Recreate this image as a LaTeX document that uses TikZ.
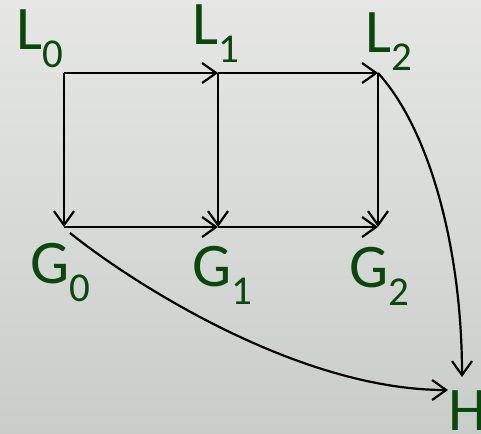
\documentclass[tikz,border=0pt]{standalone}
\usepackage{fontspec}
\setmainfont{Carlito}
\usetikzlibrary{arrows.meta}
\definecolor{txt}{RGB}{8,72,10}
\definecolor{bgtop}{RGB}{230,231,229}
\definecolor{bgbot}{RGB}{201,205,201}
\newcommand{\sbs}[1]{\raisebox{-18pt}{\fontsize{41}{41}\selectfont #1}}
\tikzset{
  lbl/.style={anchor=base west, inner sep=0pt, text=txt, font=\fontsize{62}{62}\selectfont},
  conn/.style={line width=2.2pt, draw=black, -{Straight Barb[length=14pt,width=20pt,line width=2.2pt]}},
}
\begin{document}
\begin{tikzpicture}[x=1pt,y=-1pt]
\shade[top color=bgtop, bottom color=bgbot] (0,0) rectangle (481,433);
\useasboundingbox (0,0) rectangle (481,433);
% points
\coordinate (L0) at (64,73);
\coordinate (L1) at (218,73);
\coordinate (L2) at (378,73);
\coordinate (G0) at (64,227);
\coordinate (G1) at (218,227);
\coordinate (G2) at (378,227);
\coordinate (G0s) at (70,233);
\coordinate (HT) at (462,377);
\coordinate (HL) at (448,390);
% labels
\node[lbl] (tL0) at (16,50) {L\sbs{0}};
\node[lbl] (tL1) at (192,45) {L\sbs{1}};
\node[lbl] (tL2) at (365,53) {L\sbs{2}};
\node[lbl] (tG0) at (30,283) {G\sbs{0}};
\node[lbl] (tG1) at (192,286) {G\sbs{1}};
\node[lbl] (tG2) at (349,287) {G\sbs{2}};
\node[lbl] (tH) at (448,430) {H};
% connectors
\draw[conn] (L0) -- (L1);
\draw[conn] (L1) -- (L2);
\draw[conn] (G0) -- (G1);
\draw[conn] (G1) -- (G2);
\draw[conn] (L0) -- (G0);
\draw[conn] (L1) -- (G1);
\draw[conn] (L2) -- (G2);
\draw[conn] (L2) .. controls (430,130) and (462,250) .. (HT);
\draw[conn] (G0s) .. controls (135,285) and (300,390) .. (HL);
\end{tikzpicture}
\end{document}
